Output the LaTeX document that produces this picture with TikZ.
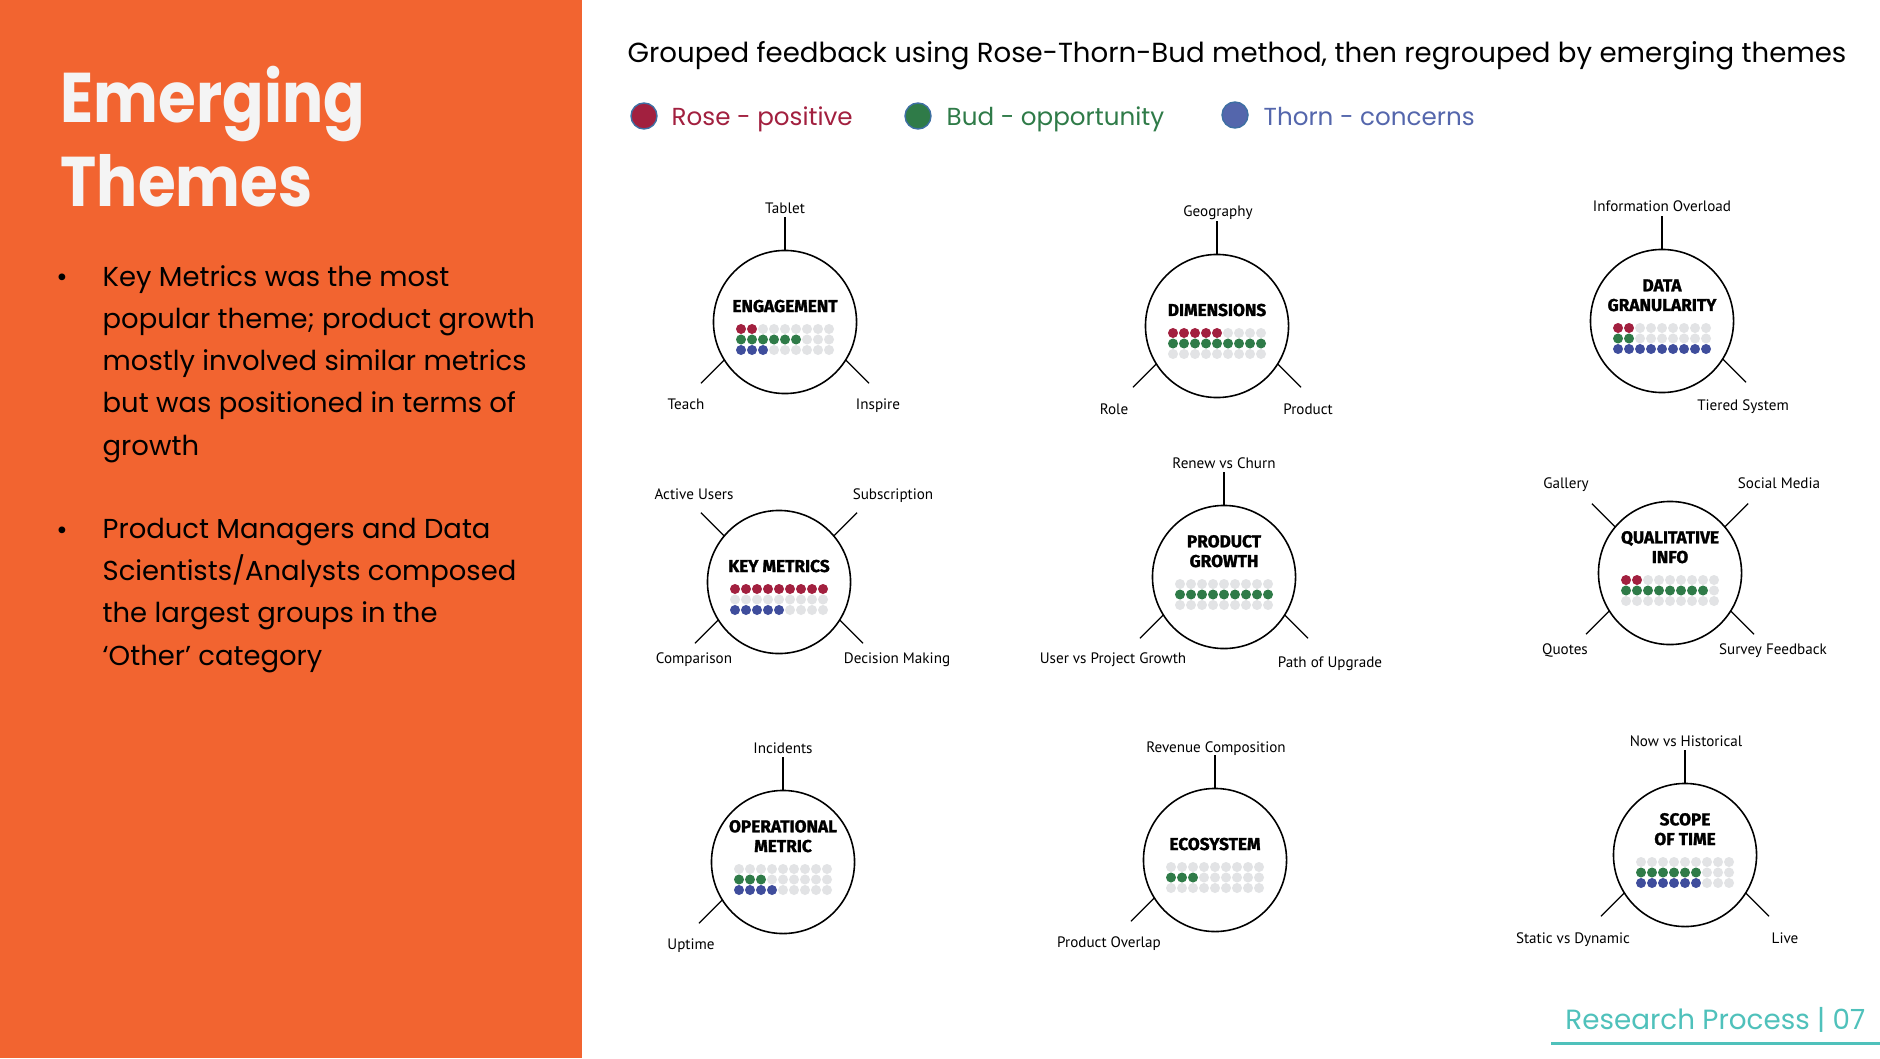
\documentclass[tikz,border=0pt]{standalone}
\usepackage{fontspec}
\setmainfont{Poppins}
\newfontfamily\titlefont[FakeStretch=0.87]{Poppins}
\newfontfamily\tagfont{PT Sans}
\newfontfamily\themefont[BoldFeatures={FakeBold=1.4}]{Fira Sans}
\usetikzlibrary{positioning}

\definecolor{panel}{HTML}{F26430}
\definecolor{paper}{HTML}{F4F4F4}
\definecolor{rose}{HTML}{A2203F}
\definecolor{bud}{HTML}{2F7B48}
\definecolor{thorn}{HTML}{3F4D9C}
\definecolor{thornlt}{HTML}{5466AC}
\definecolor{legedge}{HTML}{3E6FA3}
\definecolor{dotgray}{HTML}{E2E3E5}
\definecolor{teal}{HTML}{4FC1BB}

\begin{document}
\begin{tikzpicture}[x=0.01cm, y=-0.01cm,
  theme/.style={draw, circle, line width=0.45pt, minimum size=1.43cm, inner sep=0pt, outer sep=0pt},
  themetitle/.style={font=\themefont\bfseries\fontsize{4.9}{5.6}\selectfont, align=center, inner sep=0pt, anchor=south},
  tag/.style={font=\tagfont\fontsize{4.3}{5}\selectfont, inner sep=0pt, anchor=base},
  leg/.style={line width=0.35pt},
  legdot/.style={circle, draw=legedge, line width=0.4pt, minimum size=0.26cm, inner sep=0pt},
  legtxt/.style={font=\fontsize{7}{8.4}\selectfont, anchor=base west, inner sep=0pt},
  body/.style={font=\fontsize{7.8}{11.95}\selectfont, align=left, anchor=base west, inner sep=0pt},
]

\useasboundingbox (0,0) rectangle (1880,1058);
\fill[white] (0,0) rectangle (1880,1058);
\fill[panel] (0,0) rectangle (582,1058);

% left panel (multi-line nodes sit on the baseline of their last line)
\node (title) [font=\titlefont\bfseries\fontsize{20}{23.9}\selectfont, text=paper, align=left, anchor=base west, inner sep=0pt] at (60,207) {Emerging\\Themes};
\node (bullet1) [body, anchor=base] at (62,287) {\textbullet};
\node (point1) [body] at (102,455) {Key Metrics was the most\\popular theme; product growth\\mostly involved similar metrics\\but was positioned in terms of\\growth};
\node (bullet2) [body, anchor=base] at (62,539) {\textbullet};
\node (point2) [body] at (102,665) {Product Managers and Data\\Scientists/Analysts composed\\the largest groups in the\\‘Other’ category};

% heading and legend
\node (head) [font=\fontsize{7.85}{9.4}\selectfont, anchor=base west, inner sep=0pt] at (627,63) {Grouped feedback using Rose-Thorn-Bud method, then regrouped by emerging themes};
\node (rosedot) [legdot, fill=rose] at (644,116) {};
\node (rosetxt) [legtxt, text=rose] at (671,126) {Rose - positive};
\node (buddot) [legdot, fill=bud] at (918,116) {};
\node (budtxt) [legtxt, text=bud] at (946,126) {Bud - opportunity};
\node (thorndot) [legdot, fill=thornlt] at (1235,115) {};
\node (thorntxt) [legtxt, text=thornlt] at (1263,126) {Thorn - concerns};

% theme circles with rose / bud / thorn counts
\foreach \nm/\cx/\cy/\ttl/\nr/\ng/\nb in {
  eng/785/322/ENGAGEMENT/2/6/3,
  dim/1217/326/DIMENSIONS/5/9/0,
  gran/1662/321/{DATA\\GRANULARITY}/2/2/9,
  key/779/582/KEY METRICS/9/0/5,
  grow/1224/577/{PRODUCT\\GROWTH}/0/9/0,
  qual/1670/573/{QUALITATIVE\\INFO}/2/8/0,
  ops/783/862/{OPERATIONAL\\METRIC}/0/3/4,
  eco/1215/860/ECOSYSTEM/0/3/0,
  scope/1685/855/{SCOPE\\OF TIME}/0/6/6%
} {
  \node (\nm) [theme] at (\cx,\cy) {};
  \node (\nm-t) [themetitle] at ([yshift=0.09cm]\nm.center) {\ttl};
  \foreach \row/\n/\col in {0/\nr/rose, 1/\ng/bud, 2/\nb/thorn} {
    \foreach \i in {1,...,9} {
      \ifnum\i>\n \def\dotcol{dotgray}\else\def\dotcol{\col}\fi
      \fill[fill=\dotcol] (\cx+\i*11-55, \cy+7+\row*10.5) circle[radius=0.05cm];
    }
  }
}

% legs
\foreach \nm/\ang/\dir in {eng/90/90, eng/212/225, eng/328/315,
  dim/90/90, dim/212/225, dim/328/315, gran/90/90, gran/328/315,
  key/140/135, key/40/45, key/212/225, key/328/315,
  grow/90/90, grow/212/225, grow/328/315,
  qual/140/135, qual/40/45, qual/212/225, qual/328/315,
  ops/90/90, ops/212/225, eco/90/90, eco/212/225,
  scope/90/90, scope/212/225, scope/328/315} {
  \path (\nm.\ang) ++(\dir:0.33cm) coordinate (\nm-\ang);
  \draw[leg] (\nm.\ang) -- (\nm-\ang);
}

% leg labels
\foreach \nm/\x/\y/\txt in {tablet/785/214/Tablet, teach/686/409/Teach, inspire/878/409/Inspire,
  geo/1218/217/Geography, role/1114/414/Role, product/1308/414/Product,
  overload/1662/212/Information Overload, tiered/1743/410/Tiered System,
  active/694/499/Active Users, subs/893/499/Subscription,
  compare/694/663/Comparison, decide/897/663/Decision Making,
  renew/1224/468/Renew vs Churn, userpg/1113/663/User vs Project Growth,
  upgrade/1330/667/Path of Upgrade,
  gallery/1566/488/Gallery, social/1779/488/Social Media,
  quotes/1565/654/Quotes, survey/1773/654/Survey Feedback,
  incid/783/753/Incidents, uptime/691/949/Uptime,
  revenue/1216/752/Revenue Composition, overlap/1109/947/Product Overlap,
  nowhist/1686/746/Now vs Historical, static/1573/943/Static vs Dynamic,
  live/1785/943/Live} {
  \node (\nm) [tag] at (\x,\y) {\txt};
}

% footer
\node (footer) [font=\fontsize{7.9}{9.5}\selectfont, text=teal, anchor=base east, inner sep=0pt] at (1866,1029) {Research Process | 07};
\draw[teal, line width=0.85pt] (1551,1043) -- (1880,1043);
\end{tikzpicture}
\end{document}
